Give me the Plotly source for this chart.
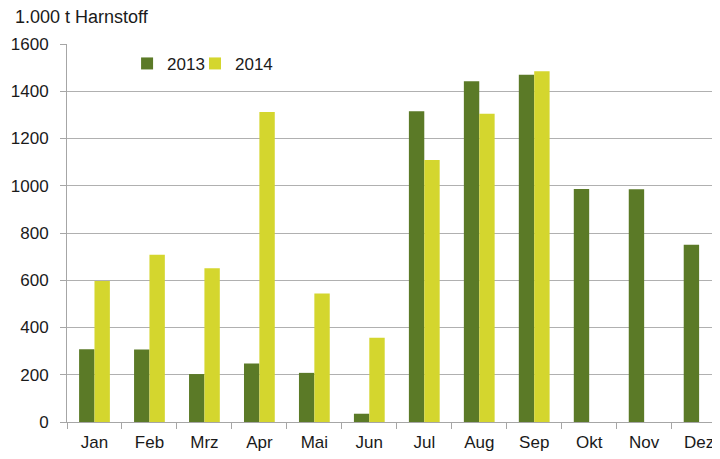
import plotly.graph_objects as go

months = ["Jan", "Feb", "Mrz", "Apr", "Mai", "Jun", "Jul", "Aug", "Sep", "Okt", "Nov", "Dez"]
v2013 = [308, 307, 203, 248, 208, 35, 1315, 1442, 1470, 986, 985, 750]
v2014 = [597, 708, 651, 1312, 544, 357, 1109, 1305, 1485, None, None, None]
yticks = [0, 200, 400, 600, 800, 1000, 1200, 1400, 1600]

FONT = "Liberation Sans, Arial, sans-serif"
TXT = "#1a1a1a"

fig = go.Figure()
fig.add_trace(go.Bar(name="2013", x=months, y=v2013, legend="legend",
                     marker=dict(color="#5B7A27", line=dict(width=0))))
fig.add_trace(go.Bar(name="2014", x=months, y=v2014, legend="legend2",
                     marker=dict(color="#D4D62E", line=dict(width=0))))

leg = dict(orientation="h", y=0.995, xanchor="left", yanchor="top",
           font=dict(family=FONT, size=17, color=TXT), bgcolor="rgba(0,0,0,0)",
           itemwidth=30)

fig.update_layout(
    width=712, height=451,
    margin=dict(l=59, r=0, t=36, b=37, autoexpand=False),
    paper_bgcolor="white", plot_bgcolor="white",
    barmode="group", bargap=0.44, bargroupgap=0,
    font=dict(family=FONT, size=17, color=TXT),
    showlegend=True,
    legend=dict(leg, x=0.092),
    legend2=dict(leg, x=0.196),
    annotations=[dict(text="1.000 t Harnstoff", xref="paper", yref="paper",
                      x=-0.083, y=1 + (44 - 17) / 378, xanchor="left", yanchor="middle",
                      showarrow=False, font=dict(family=FONT, size=18, color=TXT))],
)
fig.update_xaxes(
    range=[-0.5, 11.38], tickson="boundaries", ticks="outside", ticklen=6,
    tickcolor="#A6A6A6", showline=True, linecolor="#A6A6A6", linewidth=1,
    showgrid=False, tickfont=dict(family=FONT, size=17, color=TXT),
    automargin=False, ticklabelstandoff=5,
)
fig.update_yaxes(
    range=[0, 1600], tickvals=yticks, ticks="outside", ticklen=6, tickcolor="#A6A6A6",
    showline=True, linecolor="#A6A6A6", linewidth=1,
    showgrid=True, gridcolor="#B0B0B0", gridwidth=1, zeroline=False,
    tickfont=dict(family=FONT, size=17, color=TXT),
    automargin=False, ticklabelstandoff=8,
)

fig.write_html("out.html")
